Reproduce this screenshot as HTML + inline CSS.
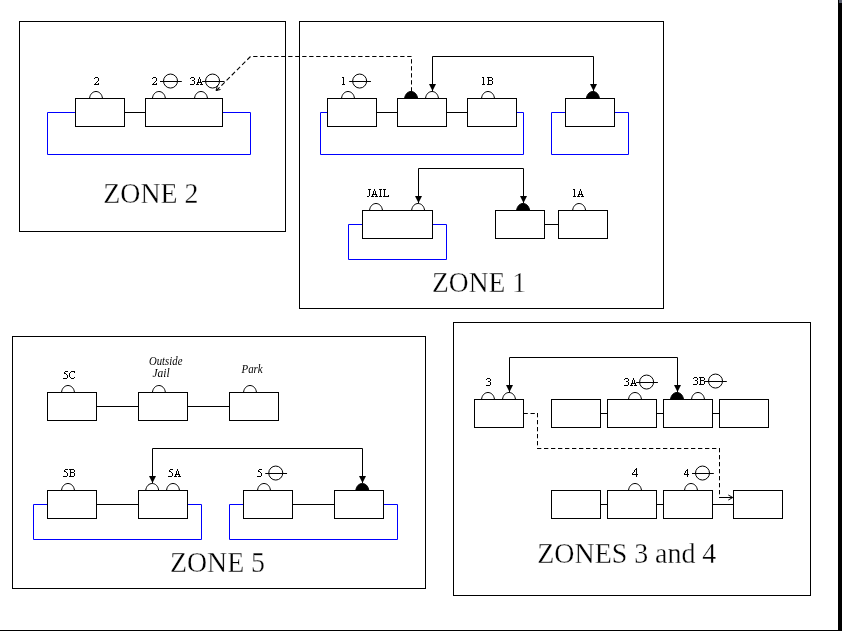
<!DOCTYPE html>
<html><head><meta charset="utf-8"><style>
html,body{margin:0;padding:0;background:#fff;overflow:hidden}
svg{display:block}
.s,.i{filter:grayscale(1)}
.s{font-family:"Liberation Serif",serif;fill:#000;stroke:#fff;stroke-width:.3px}
.i{font-family:"Liberation Serif",serif;font-style:italic;fill:#000}
</style></head><body>
<svg width="842" height="631" viewBox="0 0 842 631" shape-rendering="auto">
<rect width="842" height="631" fill="#fff"/>
<rect x="838" y="0" width="4" height="631" fill="#000"/>
<rect x="839" y="0" width="3" height="3" fill="#5a5e6e"/>
<rect x="0" y="630" width="838" height="1" fill="#000"/>
<rect x="19.5" y="21.5" width="266" height="210" fill="none" stroke="#000"/>
<rect x="299.5" y="21.5" width="364" height="287" fill="none" stroke="#000"/>
<rect x="12.5" y="336.5" width="413" height="252" fill="none" stroke="#000"/>
<rect x="453.5" y="322.5" width="357" height="273" fill="none" stroke="#000"/>
<path d="M75 112.5H47.5V154.5H250.5V112.5H222" stroke="#0000ff" fill="none"/>
<path d="M124 112.5H145" stroke="#000" />
<rect x="75.5" y="98.5" width="49" height="28" fill="#fff" stroke="#000"/>
<rect x="145.5" y="98.5" width="77" height="28" fill="#fff" stroke="#000"/>
<path d="M89.5 98.5C90.5 89.17 101.5 89.17 102.5 98.5" fill="none" stroke="#000"/>
<path d="M152.4 98.5C153.4 89.17 164.4 89.17 165.4 98.5" fill="none" stroke="#000"/>
<path d="M194.5 98.5C195.5 89.17 206.5 89.17 207.5 98.5" fill="none" stroke="#000"/>
<circle cx="170.5" cy="81.05" r="7" fill="none" stroke="#000"/>
<path d="M160.0 81.5H181.8" stroke="#000"/>
<circle cx="212.55" cy="81.05" r="7" fill="none" stroke="#000"/>
<path d="M202.05 81.5H224.5" stroke="#000"/>
<text x="103.3" y="203" class="s" font-size="29" textLength="95.1" lengthAdjust="spacingAndGlyphs">ZONE 2</text>
<path d="M327 112.5H320.5V154.5H523.5V112.5H516" stroke="#0000ff" fill="none"/>
<path d="M565 112.5H551.5V154.5H628.5V112.5H614" stroke="#0000ff" fill="none"/>
<path d="M376 112.5H397" stroke="#000" />
<path d="M446 112.5H467" stroke="#000" />
<rect x="327.5" y="98.5" width="49" height="28" fill="#fff" stroke="#000"/>
<rect x="397.5" y="98.5" width="49" height="28" fill="#fff" stroke="#000"/>
<rect x="467.5" y="98.5" width="49" height="28" fill="#fff" stroke="#000"/>
<rect x="565.5" y="98.5" width="49" height="28" fill="#fff" stroke="#000"/>
<path d="M341.5 98.5C342.5 89.17 353.5 89.17 354.5 98.5" fill="none" stroke="#000"/>
<path d="M404.6 98.5C405.6 89.17 416.6 89.17 417.6 98.5Z" fill="#000" stroke="#000"/>
<path d="M425.5 98.5C426.5 89.17 437.5 89.17 438.5 98.5" fill="none" stroke="#000"/>
<path d="M481.5 98.5C482.5 89.17 493.5 89.17 494.5 98.5" fill="none" stroke="#000"/>
<path d="M586.4 98.5C587.4 89.17 598.4 89.17 599.4 98.5Z" fill="#000" stroke="#000"/>
<circle cx="359.65" cy="81.05" r="7" fill="none" stroke="#000"/>
<path d="M349.15 81.5H370.95" stroke="#000"/>
<path d="M432.5 91V56.5H593.5V91" stroke="#000" fill="none"/>
<path d="M429.0 84H436.0L432.5 91Z" fill="#000"/>
<path d="M590.0 84H597.0L593.5 91Z" fill="#000"/>
<path d="M362 224.5H348.5V259.5H446.5V224.5H432" stroke="#0000ff" fill="none"/>
<path d="M544 224.5H558" stroke="#000" />
<rect x="362.5" y="210.5" width="70" height="28" fill="#fff" stroke="#000"/>
<rect x="495.5" y="210.5" width="49" height="28" fill="#fff" stroke="#000"/>
<rect x="558.5" y="210.5" width="49" height="28" fill="#fff" stroke="#000"/>
<path d="M369.5 210.5C370.5 201.17 381.5 201.17 382.5 210.5" fill="none" stroke="#000"/>
<path d="M411.6 210.5C412.6 201.17 423.6 201.17 424.6 210.5" fill="none" stroke="#000"/>
<path d="M516.6 210.5C517.6 201.17 528.6 201.17 529.6 210.5Z" fill="#000" stroke="#000"/>
<path d="M572.6 210.5C573.6 201.17 584.6 201.17 585.6 210.5" fill="none" stroke="#000"/>
<path d="M418.5 203V168.5H523.5V203" stroke="#000" fill="none"/>
<path d="M415.0 196H422.0L418.5 203Z" fill="#000"/>
<path d="M520.0 196H527.0L523.5 203Z" fill="#000"/>
<text x="432.1" y="292" class="s" font-size="29" textLength="93.8" lengthAdjust="spacingAndGlyphs">ZONE 1</text>
<path d="M411.5 91.5V56.5" stroke="#000" fill="none" stroke-dasharray="4.3 2.7"/>
<path d="M411.5 56.5H250.5" stroke="#000" fill="none" stroke-dasharray="4.3 2.7"/>
<path d="M250.5 56.5L216.5 90.5" stroke="#000" fill="none" stroke-width="1.1" stroke-dasharray="4.6 2.7"/>
<path d="M216 90.5L217.5 85.5M216 90.5L220.5 89.5" stroke="#000" fill="none"/>
<path d="M96 406.5H138" stroke="#000" />
<path d="M187 406.5H229" stroke="#000" />
<rect x="47.5" y="392.5" width="49" height="28" fill="#fff" stroke="#000"/>
<rect x="138.5" y="392.5" width="49" height="28" fill="#fff" stroke="#000"/>
<rect x="229.5" y="392.5" width="49" height="28" fill="#fff" stroke="#000"/>
<path d="M61.5 392.5C62.5 383.17 73.5 383.17 74.5 392.5" fill="none" stroke="#000"/>
<path d="M152.4 392.5C153.4 383.17 164.4 383.17 165.4 392.5" fill="none" stroke="#000"/>
<path d="M243.5 392.5C244.5 383.17 255.5 383.17 256.5 392.5" fill="none" stroke="#000"/>
<text x="149" y="365" class="i" font-size="11.5" textLength="33.4" lengthAdjust="spacingAndGlyphs">Outside</text>
<text x="152.5" y="377" class="i" font-size="11.5">Jail</text>
<text x="241.5" y="372.5" class="i" font-size="11.5" textLength="21.2" lengthAdjust="spacingAndGlyphs">Park</text>
<path d="M47 504.5H33.5V539.5H201.5V504.5H187" stroke="#0000ff" fill="none"/>
<path d="M243 504.5H229.5V539.5H397.5V504.5H383" stroke="#0000ff" fill="none"/>
<path d="M96 504.5H138" stroke="#000" />
<path d="M292 504.5H334" stroke="#000" />
<rect x="47.5" y="490.5" width="49" height="28" fill="#fff" stroke="#000"/>
<rect x="138.5" y="490.5" width="49" height="28" fill="#fff" stroke="#000"/>
<rect x="243.5" y="490.5" width="49" height="28" fill="#fff" stroke="#000"/>
<rect x="334.5" y="490.5" width="49" height="28" fill="#fff" stroke="#000"/>
<path d="M61.5 490.5C62.5 481.17 73.5 481.17 74.5 490.5" fill="none" stroke="#000"/>
<path d="M145.7 490.5C146.7 481.17 157.7 481.17 158.7 490.5" fill="none" stroke="#000"/>
<path d="M166.5 490.5C167.5 481.17 178.5 481.17 179.5 490.5" fill="none" stroke="#000"/>
<path d="M257.5 490.5C258.5 481.17 269.5 481.17 270.5 490.5" fill="none" stroke="#000"/>
<path d="M355.8 490.5C356.8 481.17 367.8 481.17 368.8 490.5Z" fill="#000" stroke="#000"/>
<circle cx="275.75" cy="473.05" r="7" fill="none" stroke="#000"/>
<path d="M265.25 473.5H287.05" stroke="#000"/>
<path d="M152.5 483V448.5H362.5V483" stroke="#000" fill="none"/>
<path d="M149.0 476H156.0L152.5 483Z" fill="#000"/>
<path d="M359.0 476H366.0L362.5 483Z" fill="#000"/>
<text x="170.1" y="572" class="s" font-size="29" textLength="94.9" lengthAdjust="spacingAndGlyphs">ZONE 5</text>
<path d="M600 413.5H607" stroke="#000" />
<path d="M656 413.5H663" stroke="#000" />
<path d="M712 413.5H719" stroke="#000" />
<rect x="474.5" y="399.5" width="49" height="28" fill="#fff" stroke="#000"/>
<rect x="551.5" y="399.5" width="49" height="28" fill="#fff" stroke="#000"/>
<rect x="607.5" y="399.5" width="49" height="28" fill="#fff" stroke="#000"/>
<rect x="663.5" y="399.5" width="49" height="28" fill="#fff" stroke="#000"/>
<rect x="719.5" y="399.5" width="49" height="28" fill="#fff" stroke="#000"/>
<path d="M481.5 399.5C482.5 390.17 493.5 390.17 494.5 399.5" fill="none" stroke="#000"/>
<path d="M502.5 399.5C503.5 390.17 514.5 390.17 515.5 399.5" fill="none" stroke="#000"/>
<path d="M628.5 399.5C629.5 390.17 640.5 390.17 641.5 399.5" fill="none" stroke="#000"/>
<path d="M670.5 399.5C671.5 390.17 682.5 390.17 683.5 399.5Z" fill="#000" stroke="#000"/>
<path d="M691.5 399.5C692.5 390.17 703.5 390.17 704.5 399.5" fill="none" stroke="#000"/>
<circle cx="646.6" cy="382.05" r="7" fill="none" stroke="#000"/>
<path d="M636.1 382.5H657.9" stroke="#000"/>
<circle cx="715.5" cy="381.05" r="7" fill="none" stroke="#000"/>
<path d="M705.0 381.5H726.8" stroke="#000"/>
<path d="M509.5 392V357.5H677.5V392" stroke="#000" fill="none"/>
<path d="M506.0 385H513.0L509.5 392Z" fill="#000"/>
<path d="M674.0 385H681.0L677.5 392Z" fill="#000"/>
<path d="M600 504.5H607" stroke="#000" />
<path d="M656 504.5H663" stroke="#000" />
<path d="M712 504.5H733" stroke="#000" />
<rect x="551.5" y="490.5" width="49" height="28" fill="#fff" stroke="#000"/>
<rect x="607.5" y="490.5" width="49" height="28" fill="#fff" stroke="#000"/>
<rect x="663.5" y="490.5" width="49" height="28" fill="#fff" stroke="#000"/>
<rect x="733.5" y="490.5" width="49" height="28" fill="#fff" stroke="#000"/>
<path d="M628.5 490.5C629.5 481.17 640.5 481.17 641.5 490.5" fill="none" stroke="#000"/>
<path d="M684.5 490.5C685.5 481.17 696.5 481.17 697.5 490.5" fill="none" stroke="#000"/>
<circle cx="702.5" cy="473.05" r="7" fill="none" stroke="#000"/>
<path d="M692.0 473.5H713.8" stroke="#000"/>
<path d="M523.5 413.5H537.5" stroke="#000" fill="none" stroke-dasharray="4.3 2.7"/>
<path d="M537.5 413V448.5" stroke="#000" fill="none" stroke-dasharray="4.3 2.7"/>
<path d="M537 448.5H719.5" stroke="#000" fill="none" stroke-dasharray="4.3 2.7"/>
<path d="M719.5 448V497" stroke="#000" fill="none" stroke-dasharray="4.3 2.7"/>
<path d="M719 497.5H732.5M732.8 497.5L728.3 495M732.8 497.5L728.3 500" stroke="#000" fill="none"/>
<text x="537.3" y="563" class="s" font-size="29" textLength="179" lengthAdjust="spacingAndGlyphs">ZONES 3 and 4</text>
<path d="M95 77h3v1h-3zM94 78h1v1h-1zM98 78h1v1h-1zM98 79h1v1h-1zM98 80h1v1h-1zM97 81h1v1h-1zM96 82h1v1h-1zM95 83h1v1h-1zM98 83h1v1h-1zM94 84h5v1h-5zM153 77h3v1h-3zM152 78h1v1h-1zM156 78h1v1h-1zM156 79h1v1h-1zM156 80h1v1h-1zM155 81h1v1h-1zM154 82h1v1h-1zM153 83h1v1h-1zM156 83h1v1h-1zM152 84h5v1h-5zM191 77h3v1h-3zM190 78h1v1h-1zM194 78h1v1h-1zM194 79h1v1h-1zM192 80h2v1h-2zM194 81h1v1h-1zM194 82h1v1h-1zM194 83h1v1h-1zM190 84h4v1h-4zM199 77h1v1h-1zM199 78h1v1h-1zM198 79h1v1h-1zM200 79h1v1h-1zM198 80h1v1h-1zM200 80h1v1h-1zM198 81h1v1h-1zM200 81h1v1h-1zM197 82h5v1h-5zM197 83h1v1h-1zM201 83h1v1h-1zM196 84h3v1h-3zM200 84h3v1h-3zM342 77h2v1h-2zM343 78h1v1h-1zM343 79h1v1h-1zM343 80h1v1h-1zM343 81h1v1h-1zM343 82h1v1h-1zM343 83h1v1h-1zM342 84h3v1h-3zM482 77h2v1h-2zM483 78h1v1h-1zM483 79h1v1h-1zM483 80h1v1h-1zM483 81h1v1h-1zM483 82h1v1h-1zM483 83h1v1h-1zM482 84h3v1h-3zM487 77h5v1h-5zM488 78h1v1h-1zM492 78h1v1h-1zM488 79h1v1h-1zM492 79h1v1h-1zM488 80h4v1h-4zM488 81h1v1h-1zM492 81h1v1h-1zM488 82h1v1h-1zM492 82h1v1h-1zM488 83h1v1h-1zM492 83h1v1h-1zM487 84h5v1h-5zM368 189h3v1h-3zM369 190h1v1h-1zM369 191h1v1h-1zM369 192h1v1h-1zM369 193h1v1h-1zM369 194h1v1h-1zM369 195h1v1h-1zM367 196h2v1h-2zM374 189h1v1h-1zM374 190h1v1h-1zM373 191h1v1h-1zM375 191h1v1h-1zM373 192h1v1h-1zM375 192h1v1h-1zM373 193h1v1h-1zM375 193h1v1h-1zM372 194h5v1h-5zM372 195h1v1h-1zM376 195h1v1h-1zM371 196h3v1h-3zM375 196h3v1h-3zM379 189h3v1h-3zM380 190h1v1h-1zM380 191h1v1h-1zM380 192h1v1h-1zM380 193h1v1h-1zM380 194h1v1h-1zM380 195h1v1h-1zM379 196h3v1h-3zM383 189h3v1h-3zM384 190h1v1h-1zM384 191h1v1h-1zM384 192h1v1h-1zM384 193h1v1h-1zM384 194h1v1h-1zM384 195h1v1h-1zM388 195h1v1h-1zM383 196h6v1h-6zM573 189h2v1h-2zM574 190h1v1h-1zM574 191h1v1h-1zM574 192h1v1h-1zM574 193h1v1h-1zM574 194h1v1h-1zM574 195h1v1h-1zM573 196h3v1h-3zM580 189h1v1h-1zM580 190h1v1h-1zM579 191h1v1h-1zM581 191h1v1h-1zM579 192h1v1h-1zM581 192h1v1h-1zM579 193h1v1h-1zM581 193h1v1h-1zM578 194h5v1h-5zM578 195h1v1h-1zM582 195h1v1h-1zM577 196h3v1h-3zM581 196h3v1h-3zM65 371h3v1h-3zM64 372h1v1h-1zM64 373h2v1h-2zM66 374h1v1h-1zM67 375h1v1h-1zM67 376h1v1h-1zM67 377h1v1h-1zM63 378h4v1h-4zM71 371h4v1h-4zM70 372h1v1h-1zM74 372h1v1h-1zM69 373h1v1h-1zM69 374h1v1h-1zM69 375h1v1h-1zM69 376h1v1h-1zM70 377h1v1h-1zM74 377h1v1h-1zM71 378h3v1h-3zM65 469h3v1h-3zM64 470h1v1h-1zM64 471h2v1h-2zM66 472h1v1h-1zM67 473h1v1h-1zM67 474h1v1h-1zM67 475h1v1h-1zM63 476h4v1h-4zM69 469h5v1h-5zM70 470h1v1h-1zM74 470h1v1h-1zM70 471h1v1h-1zM74 471h1v1h-1zM70 472h4v1h-4zM70 473h1v1h-1zM74 473h1v1h-1zM70 474h1v1h-1zM74 474h1v1h-1zM70 475h1v1h-1zM74 475h1v1h-1zM69 476h5v1h-5zM170 469h3v1h-3zM169 470h1v1h-1zM169 471h2v1h-2zM171 472h1v1h-1zM172 473h1v1h-1zM172 474h1v1h-1zM172 475h1v1h-1zM168 476h4v1h-4zM177 469h1v1h-1zM177 470h1v1h-1zM176 471h1v1h-1zM178 471h1v1h-1zM176 472h1v1h-1zM178 472h1v1h-1zM176 473h1v1h-1zM178 473h1v1h-1zM175 474h5v1h-5zM175 475h1v1h-1zM179 475h1v1h-1zM174 476h3v1h-3zM178 476h3v1h-3zM259 469h3v1h-3zM258 470h1v1h-1zM258 471h2v1h-2zM260 472h1v1h-1zM261 473h1v1h-1zM261 474h1v1h-1zM261 475h1v1h-1zM257 476h4v1h-4zM487 378h3v1h-3zM486 379h1v1h-1zM490 379h1v1h-1zM490 380h1v1h-1zM488 381h2v1h-2zM490 382h1v1h-1zM490 383h1v1h-1zM490 384h1v1h-1zM486 385h4v1h-4zM625 378h3v1h-3zM624 379h1v1h-1zM628 379h1v1h-1zM628 380h1v1h-1zM626 381h2v1h-2zM628 382h1v1h-1zM628 383h1v1h-1zM628 384h1v1h-1zM624 385h4v1h-4zM633 378h1v1h-1zM633 379h1v1h-1zM632 380h1v1h-1zM634 380h1v1h-1zM632 381h1v1h-1zM634 381h1v1h-1zM632 382h1v1h-1zM634 382h1v1h-1zM631 383h5v1h-5zM631 384h1v1h-1zM635 384h1v1h-1zM630 385h3v1h-3zM634 385h3v1h-3zM694 377h3v1h-3zM693 378h1v1h-1zM697 378h1v1h-1zM697 379h1v1h-1zM695 380h2v1h-2zM697 381h1v1h-1zM697 382h1v1h-1zM697 383h1v1h-1zM693 384h4v1h-4zM699 377h5v1h-5zM700 378h1v1h-1zM704 378h1v1h-1zM700 379h1v1h-1zM704 379h1v1h-1zM700 380h4v1h-4zM700 381h1v1h-1zM704 381h1v1h-1zM700 382h1v1h-1zM704 382h1v1h-1zM700 383h1v1h-1zM704 383h1v1h-1zM699 384h5v1h-5zM636 468h1v1h-1zM635 469h2v1h-2zM634 470h1v1h-1zM636 470h1v1h-1zM634 471h1v1h-1zM636 471h1v1h-1zM633 472h1v1h-1zM636 472h1v1h-1zM632 473h1v1h-1zM636 473h1v1h-1zM632 474h6v1h-6zM636 475h1v1h-1zM636 476h1v1h-1zM687 469h1v1h-1zM686 470h2v1h-2zM685 471h1v1h-1zM687 471h1v1h-1zM685 472h1v1h-1zM687 472h1v1h-1zM684 473h1v1h-1zM687 473h1v1h-1zM684 474h5v1h-5zM687 475h1v1h-1zM687 476h1v1h-1z" fill="#000" shape-rendering="crispEdges"/>
</svg></body></html>
